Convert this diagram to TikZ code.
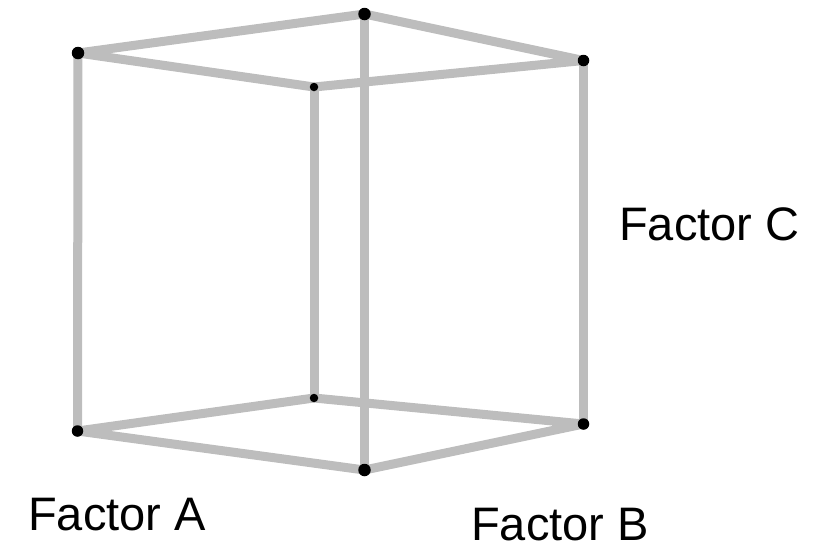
\documentclass[tikz,border=0pt]{standalone}
\usepackage{fontspec}
\setmainfont{Liberation Sans}
\usetikzlibrary{backgrounds}
\begin{document}
\begin{tikzpicture}[x=1pt,y=-1pt,
  corner/.style={circle,fill=black,inner sep=0pt,minimum size=12.5pt},
  smallcorner/.style={circle,fill=black,inner sep=0pt,minimum size=8.5pt},
  edge/.style={line width=9pt,draw=black!26,line join=round},
  factorlab/.style={font=\fontsize{47}{47}\selectfont,inner sep=0pt,anchor=base west}]
  \useasboundingbox (0,0) rectangle (828,544);
  % back corners
  \node[smallcorner] (bt) at (314,87) {};
  \node[smallcorner] (bb) at (314,398) {};
  % outer corners
  \node[corner] (lt) at (78,53) {};
  \node[corner] (mt) at (364.5,14) {};
  \node[corner,minimum size=11.5pt] (rt) at (583.5,60.5) {};
  \node[corner,minimum size=11.5pt] (lb) at (77.5,431) {};
  \node[corner] (mb) at (364.5,470) {};
  \node[corner,minimum size=11.5pt] (rb) at (583.5,424) {};
  % edges
  \begin{scope}[on background layer]
    \draw[edge] (lt.center) -- (mt.center) -- (rt.center) -- (bt.center) -- cycle;
    \draw[edge] (lb.center) -- (mb.center) -- (rb.center) -- (bb.center) -- cycle;
    \draw[edge] (lt.center) -- (lb.center);
    \draw[edge] (mt.center) -- (mb.center);
    \draw[edge] (rt.center) -- (rb.center);
    \draw[edge] (bt.center) -- (bb.center);
  \end{scope}
  % labels
  \node[factorlab] (fc) at (619,240) {Factor C};
  \node[factorlab] (fa) at (28,530) {Factor A};
  \node[factorlab] (fb) at (471,540) {Factor B};
\end{tikzpicture}
\end{document}
